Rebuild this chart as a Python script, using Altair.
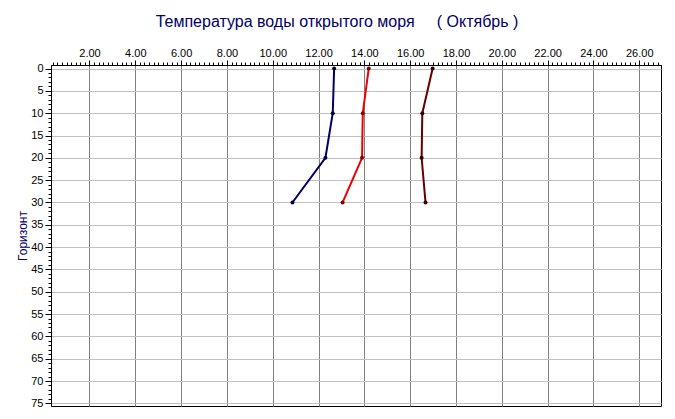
import altair as alt
import pandas as pd

# Sea-surface temperature by depth horizon, October
depths = [0, 10, 20, 30]
series_names = ["Серия 1", "Серия 2", "Серия 3"]
temp_s1 = [12.68, 12.62, 12.30, 10.86]
temp_s2 = [14.19, 13.93, 13.90, 13.05]
temp_s3 = [16.98, 16.53, 16.50, 16.67]

line_colors = ["#000066", "#ee0000", "#660000"]
dot_colors = ["#000040", "#800000", "#330000"]

# axis tick positions: minor every 0.2 °C / 1 m, labelled every 2 °C / 5 m
x_ticks = [round(0.2 * i, 1) for i in range(2, 135)]
y_ticks = list(range(0, 76))

rows = []
for name, temps in zip(series_names, [temp_s1, temp_s2, temp_s3]):
    for d, t in zip(depths, temps):
        rows.append({"series": name, "depth": d, "temp": t})
df = pd.DataFrame(rows)

FONT = "Liberation Sans"
is_major_x = "abs(datum.value / 2 - round(datum.value / 2)) < 0.001"
is_major_y = "datum.value % 5 == 0"

x_enc = alt.X(
    "temp:Q",
    scale=alt.Scale(domain=[0.32, 26.95], nice=False, zero=False),
    axis=alt.Axis(
        orient="top",
        values=x_ticks,
        title=None,
        labelExpr=f"{is_major_x} ? format(datum.value, '.2f') : ''",
        labelOverlap=False,
        labelFont=FONT,
        labelFontSize=11,
        labelColor="#000000",
        labelPadding=2,
        labelFlush=False,
        domainColor="#000000",
        tickColor="#000000",
        tickSize={"condition": {"test": is_major_x, "value": 5}, "value": 3},
        grid=True,
        gridColor="#808080",
        gridOpacity={"condition": {"test": is_major_x, "value": 1}, "value": 0},
    ),
)

y_enc = alt.Y(
    "depth:Q",
    scale=alt.Scale(domain=[-0.8, 75.6], reverse=True, nice=False, zero=False),
    axis=alt.Axis(
        orient="left",
        values=y_ticks,
        title="Горизонт",
        titleFont=FONT,
        titleFontSize=12,
        titleFontWeight="normal",
        titleColor="#000066",
        titlePadding=1,
        labelExpr=f"{is_major_y} ? datum.label : ''",
        labelOverlap=False,
        labelFont=FONT,
        labelFontSize=11,
        labelColor="#000000",
        labelPadding=2,
        labelFlush=False,
        domainColor="#000000",
        tickColor="#000000",
        tickSize={"condition": {"test": is_major_y, "value": 6}, "value": 3},
        grid=True,
        gridColor="#c0c0c0",
        gridOpacity={"condition": {"test": is_major_y, "value": 1}, "value": 0},
    ),
)

base = alt.Chart(df).encode(x=x_enc, y=y_enc)

lines = base.mark_line(strokeWidth=2).encode(
    order=alt.Order("depth:Q"),
    stroke=alt.Stroke(
        "series:N",
        scale=alt.Scale(domain=series_names, range=line_colors),
        legend=None,
    ),
)

dots = base.mark_point(filled=True, size=16, opacity=1).encode(
    fill=alt.Fill(
        "series:N",
        scale=alt.Scale(domain=series_names, range=dot_colors),
        legend=None,
    ),
)

NBSP = "\u00a0"
title_text = "Температура воды открытого моря" + NBSP * 5 + "( Октябрь )"

chart = (
    alt.layer(lines, dots)
    .properties(
        width=610,
        height=341,
        title=alt.TitleParams(
            text=title_text,
            anchor="middle",
            frame="group",
            dx=-19,
            offset=17,
            font=FONT,
            fontSize=16,
            fontWeight="normal",
            color="#000066",
        ),
        padding={"left": 51, "top": 65, "right": 14, "bottom": 13},
        autosize=alt.AutoSizeParams(type="none"),
        background="#ffffff",
    )
    .configure_view(stroke="#000000", strokeWidth=1)
)

chart.save("out.html", embed_options={"renderer": "svg", "actions": False})
